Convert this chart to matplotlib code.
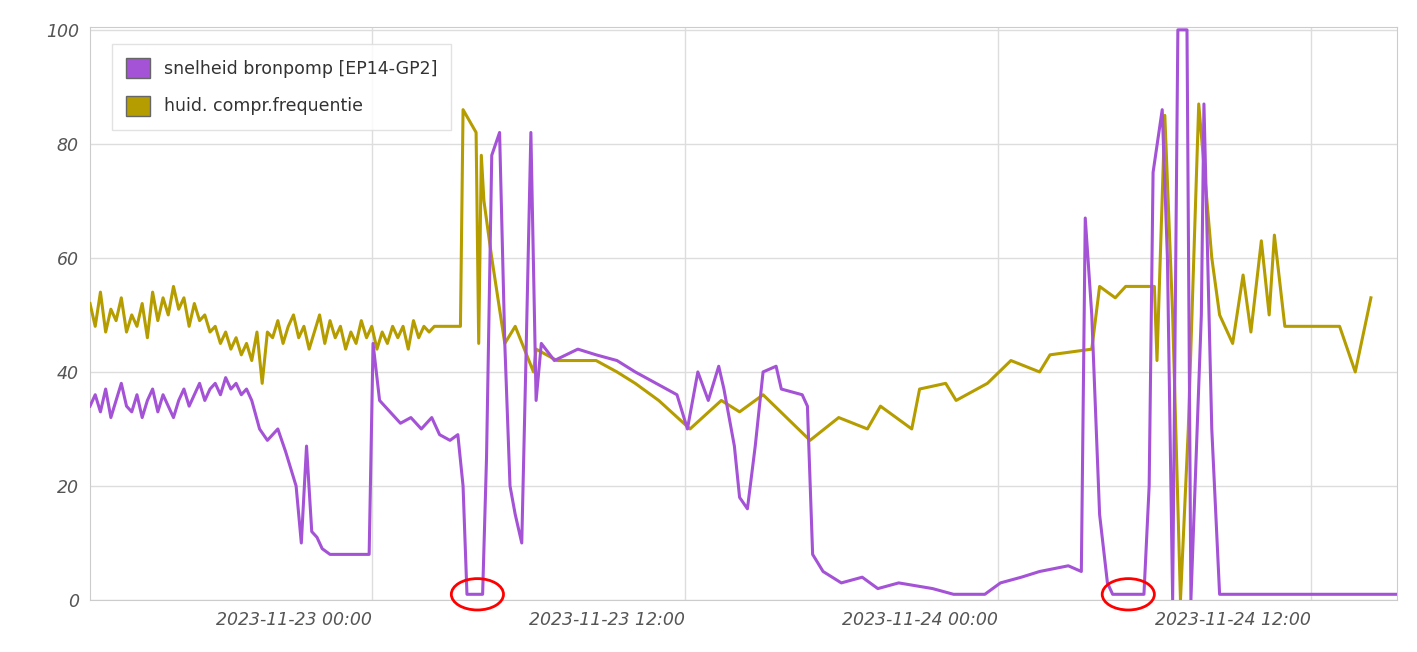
import matplotlib
matplotlib.use("Agg")
import matplotlib.pyplot as plt
import matplotlib.dates as mdates
from matplotlib.patches import Ellipse, Patch
import pandas as pd

base = pd.Timestamp("2023-11-23 00:00")

# (hours relative to 2023-11-23 00:00, value)
purple_pts = [(-10.8,34),(-10.6,36),(-10.4,33),(-10.2,37),(-10.0,32),(-9.8,35),(-9.6,38),(-9.4,34),(-9.2,33),(-9.0,36),
              (-8.8,32),(-8.6,35),(-8.4,37),(-8.2,33),(-8.0,36),(-7.8,34),(-7.6,32),(-7.4,35),(-7.2,37),(-7.0,34),
              (-6.8,36),(-6.6,38),(-6.4,35),(-6.2,37),(-6.0,38),(-5.8,36),(-5.6,39),(-5.4,37),(-5.2,38),(-5.0,36),
              (-4.8,37),(-4.6,35),(-4.3,30),(-4.0,28),(-3.6,30),(-3.3,26),(-2.9,20),(-2.7,10),(-2.5,27),(-2.3,12),
              (-2.1,11),(-1.9,9),(-1.6,8),(-1.3,8),(-0.1,8),(0.05,45),(0.3,35),(0.7,33),(1.1,31),(1.5,32),
              (1.9,30),(2.3,32),(2.6,29),(3.0,28),(3.3,29),(3.5,20),(3.65,1),(3.85,1),(4.25,1),(4.4,25),
              (4.6,78),(4.9,82),(5.1,45),(5.3,20),(5.5,15),(5.75,10),(5.9,40),(6.1,82),(6.3,35),(6.5,45),
              (7.0,42),(7.9,44),(8.6,43),(9.4,42),(10.1,40),(10.9,38),(11.7,36),(12.1,30),(12.5,40),(12.9,35),
              (13.3,41),(13.5,37),(13.9,27),(14.1,18),(14.4,16),(14.7,27),(15.0,40),(15.5,41),(15.7,37),(16.5,36),
              (16.7,34),(16.9,8),(17.3,5),(18.0,3),(18.8,4),(19.4,2),(20.2,3),(21.5,2),(22.3,1),(23.5,1),
              (24.1,3),(24.9,4),(25.6,5),(26.7,6),(27.2,5),(27.35,67),(27.6,50),(27.9,15),(28.2,3),(28.4,1),
              (29.6,1),(29.8,20),(29.95,75),(30.3,86),(30.5,60),(30.7,0),(30.9,100),(31.25,100),(31.4,0),(31.8,50),
              (31.9,87),(32.2,30),(32.5,1),(39.3,1)]

gold_pts = [(-10.8,52),(-10.6,48),(-10.4,54),(-10.2,47),(-10.0,51),(-9.8,49),(-9.6,53),(-9.4,47),(-9.2,50),(-9.0,48),
            (-8.8,52),(-8.6,46),(-8.4,54),(-8.2,49),(-8.0,53),(-7.8,50),(-7.6,55),(-7.4,51),(-7.2,53),(-7.0,48),
            (-6.8,52),(-6.6,49),(-6.4,50),(-6.2,47),(-6.0,48),(-5.8,45),(-5.6,47),(-5.4,44),(-5.2,46),(-5.0,43),
            (-4.8,45),(-4.6,42),(-4.4,47),(-4.2,38),(-4.0,47),(-3.8,46),(-3.6,49),(-3.4,45),(-3.2,48),(-3.0,50),
            (-2.8,46),(-2.6,48),(-2.4,44),(-2.2,47),(-2.0,50),(-1.8,45),(-1.6,49),(-1.4,46),(-1.2,48),(-1.0,44),
            (-0.8,47),(-0.6,45),(-0.4,49),(-0.2,46),(0.0,48),(0.2,44),(0.4,47),(0.6,45),(0.8,48),(1.0,46),
            (1.2,48),(1.4,44),(1.6,49),(1.8,46),(2.0,48),(2.2,47),(2.4,48),(3.4,48),(3.5,86),(4.0,82),
            (4.1,45),(4.2,78),(4.3,70),(4.6,60),(5.1,45),(5.5,48),(6.2,40),(6.3,44),(7.1,42),(8.6,42),
            (9.4,40),(10.1,38),(11.0,35),(12.2,30),(13.4,35),(14.1,33),(15.0,36),(16.8,28),(17.9,32),(19.0,30),
            (19.5,34),(20.7,30),(21.0,37),(22.0,38),(22.4,35),(23.6,38),(24.5,42),(25.6,40),(26.0,43),(27.6,44),
            (27.9,55),(28.5,53),(28.9,55),(30.0,55),(30.1,42),(30.4,85),(30.7,50),(31.0,0),(31.3,30),(31.7,87),
            (32.2,60),(32.5,50),(33.0,45),(33.4,57),(33.7,47),(34.1,63),(34.4,50),(34.6,64),(35.0,48),(37.1,48),
            (37.7,40),(38.3,53)]

purple = "#a452d6"
gold = "#b59d00"

fig = plt.figure(figsize=(14.17, 6.52), dpi=100)
ax = fig.add_axes([90/1417, 52/652, (1397-90)/1417, (625-52)/652])

pt = [base + pd.Timedelta(hours=h) for h, v in purple_pts]
pv = [v for h, v in purple_pts]
gt = [base + pd.Timedelta(hours=h) for h, v in gold_pts]
gv = [v for h, v in gold_pts]
ax.plot(gt, gv, color=gold, lw=2.2, zorder=3)
ax.plot(pt, pv, color=purple, lw=2.2, zorder=4)

ax.set_xlim(base + pd.Timedelta(hours=-10.8), base + pd.Timedelta(hours=39.3))
ax.set_ylim(0, 100.5)
ax.set_yticks([0, 20, 40, 60, 80, 100])
ticks = [base + pd.Timedelta(hours=h) for h in (0, 12, 24, 36)]
ax.set_xticks(ticks)
ax.set_xticklabels([t.strftime("%Y-%m-%d %H:%M") for t in ticks], ha="right")
ax.grid(True, color="#dddddd", lw=1)
ax.set_axisbelow(True)
for s in ax.spines.values():
    s.set_color("#cccccc")
ax.tick_params(length=0, labelsize=12.5, labelcolor="#555555", pad=8)
for lab in ax.get_xticklabels() + ax.get_yticklabels():
    lab.set_fontstyle("italic")

for c in (4.05, 29.0):
    e = Ellipse((mdates.date2num(base + pd.Timedelta(hours=c)), 1), width=(2.0/24), height=5.5,
                fill=False, edgecolor="red", lw=2, zorder=6, clip_on=False)
    ax.add_patch(e)

handles = [Patch(facecolor=purple, edgecolor="#666666", label="snelheid bronpomp [EP14-GP2]"),
           Patch(facecolor=gold, edgecolor="#666666", label="huid. compr.frequentie")]
leg = ax.legend(handles=handles, loc="upper left", bbox_to_anchor=(0.01, 0.985), fontsize=12.5,
                handlelength=1.4, handleheight=1.4, labelspacing=1.0, borderpad=0.8,
                fancybox=False, edgecolor="#dddddd", framealpha=0.85)
for t in leg.get_texts():
    t.set_color("#333333")

fig.savefig("out.png", dpi=100)
